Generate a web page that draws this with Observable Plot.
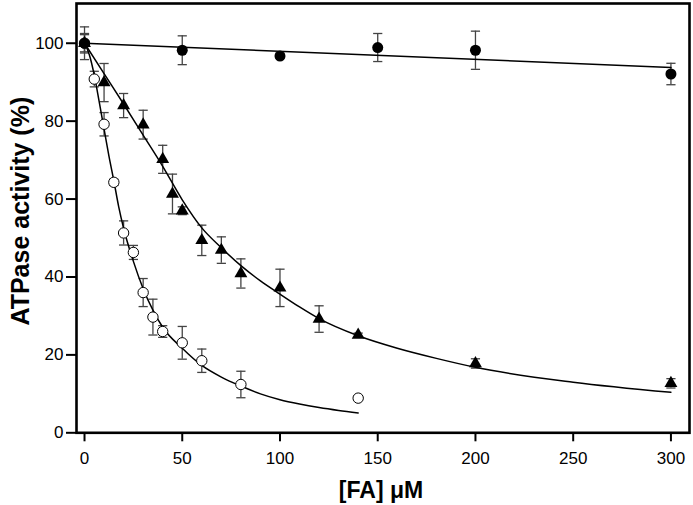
<!DOCTYPE html>
<html>
<head>
<meta charset="utf-8">
<script src="https://cdn.jsdelivr.net/npm/d3@7"></script>
<script src="https://cdn.jsdelivr.net/npm/@observablehq/plot@0.6"></script>
<style>
  html, body { margin: 0; padding: 0; background: white; }
  #chart svg { display: block; }
</style>
</head>
<body>
<div id="chart"></div>
<script>
// Tick labels
const xTicks = [0, 50, 100, 150, 200, 250, 300];
const yTicks = [0, 20, 40, 60, 80, 100];
const xLabel = "[FA] μM";
const yLabel = "ATPase activity (%)";

// Filled circles (mean, error)
const ctrlX = [0, 50, 100, 150, 200, 300];
const ctrlY = [100, 98.2, 96.7, 98.9, 98.2, 92.1];
const ctrlErr = [2.2, 3.7, 0.6, 3.6, 4.9, 2.75];

// Filled triangles
const triX = [0, 10, 20, 30, 40, 45, 50, 60, 70, 80, 100, 120, 140, 200, 300];
const triY = [100, 89.9, 84.0, 79.1, 70.2, 61.3, 57.0, 49.4, 46.9, 40.9, 37.2, 29.2, 25.1, 17.8, 12.7];
const triErr = [4.2, 4.9, 3.1, 3.7, 3.6, 5.1, 1.0, 3.9, 3.4, 3.75, 4.8, 3.4, 0.5, 1.2, 1.2];

// Open circles
const openX = [0, 5, 10, 15, 20, 25, 30, 35, 40, 50, 60, 80, 140];
const openY = [100, 90.8, 79.2, 64.3, 51.3, 46.3, 36.0, 29.7, 26.0, 23.1, 18.5, 12.4, 8.9];
const openErr = [2.5, 2.0, 3.0, 0.8, 3.1, 1.8, 3.6, 4.6, 1.5, 4.2, 3.0, 3.4, 0.5];

// Fitted curves
const ctrlFitX = [0, 300];
const ctrlFitY = [100, 93.8];
const triFitX = [0, 10, 20, 30, 40, 50, 60, 70, 80, 90, 100, 110, 120, 140, 160, 180, 200, 250, 300];
const triFitY = [100, 92.2, 84.4, 76.4, 68.4, 59.8, 52.6, 47.5, 42.9, 39.0, 35.6, 32.3, 29.3, 24.9, 21.7, 19.1, 16.8, 13.0, 10.4];
const openFitX = [0, 2.5, 5, 7.5, 10, 12.5, 15, 17.5, 20, 25, 30, 35, 40, 50, 60, 70, 80, 90, 100, 110, 120, 130, 140];
const openFitY = [100, 97, 91.8, 85, 78, 71, 64.7, 58, 52.5, 44, 37, 31.5, 27.1, 21.7, 17.3, 14.3, 12.0, 10.0, 8.5, 7.4, 6.5, 5.75, 5.1];

const rows = (xs, ys, es) => xs.map((x, i) => ({x, y: ys[i], lo: ys[i] - es[i], hi: ys[i] + es[i]}));
const pts = (xs, ys) => xs.map((x, i) => ({x, y: ys[i]}));

const ctrl = rows(ctrlX, ctrlY, ctrlErr);
const tri = rows(triX, triY, triErr);
const open = rows(openX, openY, openErr);
const allErr = [...open, ...tri, ...ctrl];

const cap = {draw(ctx) { ctx.moveTo(-4.6, 0); ctx.lineTo(4.6, 0); }};
const errColor = "#444";

const chart = Plot.plot({
  width: 693,
  height: 505,
  marginLeft: 76,
  marginRight: 4,
  marginTop: 3,
  marginBottom: 72.7,
  x: {domain: [-4.1, 309.5]},
  y: {domain: [0, 110.2]},
  style: {fontFamily: "'Liberation Sans', Arial, sans-serif", fontSize: "17px", color: "black", background: "white"},
  marks: [
    // error bars
    Plot.ruleX(allErr, {x: "x", y1: "lo", y2: "hi", stroke: errColor, strokeWidth: 1.3}),
    Plot.dot(allErr, {x: "x", y: "hi", symbol: cap, fill: "none", stroke: errColor, strokeWidth: 1.3}),
    Plot.dot(allErr, {x: "x", y: "lo", symbol: cap, fill: "none", stroke: errColor, strokeWidth: 1.3}),
    // fitted curves
    Plot.line(pts(ctrlFitX, ctrlFitY), {x: "x", y: "y", stroke: "black", strokeWidth: 1.5}),
    Plot.line(pts(triFitX, triFitY), {x: "x", y: "y", stroke: "black", strokeWidth: 1.5, curve: "monotone-x"}),
    Plot.line(pts(openFitX, openFitY), {x: "x", y: "y", stroke: "black", strokeWidth: 1.5, curve: "monotone-x"}),
    // markers
    Plot.dot(open, {x: "x", y: "y", r: 5.2, fill: "white", stroke: "black", strokeWidth: 1}),
    Plot.dot(tri, {x: "x", y: "y", symbol: "triangle", r: 4.8, fill: "black", stroke: "none"}),
    Plot.dot(ctrl, {x: "x", y: "y", r: 5.5, fill: "black", stroke: "none"}),
    // axes and frame
    Plot.axisX({ticks: xTicks, tickSize: 9, tickPadding: 10, strokeWidth: 2, label: null, fontSize: 17}),
    Plot.axisY({ticks: yTicks, tickSize: 10, tickPadding: 3, strokeWidth: 2, label: null, fontSize: 17}),
    Plot.frame({stroke: "black", strokeWidth: 2.6}),
    // axis titles
    Plot.text([yLabel], {frameAnchor: "left", dx: -56, dy: -7, rotate: -90, textAnchor: "middle", fontSize: 25, fontWeight: "bold", fill: "black"}),
    Plot.text([xLabel], {frameAnchor: "bottom", dy: 65, dx: -2, textAnchor: "middle", fontSize: 23, fontWeight: "bold", fill: "black"})
  ]
});
document.getElementById("chart").appendChild(chart);
</script>
</body>
</html>
